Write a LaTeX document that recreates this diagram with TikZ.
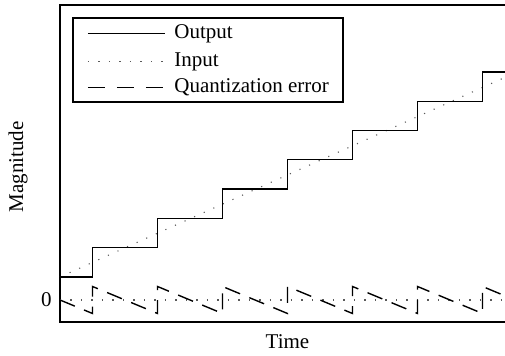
\documentclass[tikz,border=0pt]{standalone}
\usepackage{fontspec}
\setmainfont{Liberation Serif}
\begin{document}
\begin{tikzpicture}[x=0.5pt,y=-0.5pt,
  lbl/.style={font=\fontsize{10.5}{12}\selectfont, inner sep=0pt},
  axisline/.style={line width=1pt},
  outline/.style={line width=0.65pt},
  inline/.style={line width=0.55pt, dash pattern=on 0.55pt off 4.7pt, gray!70!black},
  errline/.style={line width=0.7pt, dash pattern=on 8pt off 5pt},
  legbox/.style={draw, line width=0.85pt, fill=white}]
\useasboundingbox (0,0) rectangle (505,356);
\clip (0,0) rectangle (505,356);
% frame
\draw[axisline] (60,5) rectangle (540,322);
% zero reference (dotted)
\draw[inline] (60,300) -- (505,300);
% input ramp (dotted)
\draw[inline] (60,277) -- (505,77.4);
% output staircase
\draw[outline] (60,277) -- (92.5,277) -- (92.5,247.7) -- (157.5,247.7) -- (157.5,218.4)
  -- (222.5,218.4) -- (222.5,189.1) -- (287.5,189.1) -- (287.5,159.8) -- (352.5,159.8)
  -- (352.5,130.5) -- (417.5,130.5) -- (417.5,101.2) -- (482.5,101.2) -- (482.5,71.9) -- (505,71.9);
% quantization error sawtooth
\draw[errline] (60,300) -- (92.5,313.5) -- (92.5,286.5) -- (157.5,313.5) -- (157.5,286.5)
  -- (222.5,313.5) -- (222.5,286.5) -- (287.5,313.5) -- (287.5,286.5) -- (352.5,313.5)
  -- (352.5,286.5) -- (417.5,313.5) -- (417.5,286.5) -- (482.5,313.5) -- (482.5,286.5) -- (505,295.85);
% legend
\draw[legbox] (73.3,18.3) rectangle (342.7,101.7);
\coordinate (l1a) at (88,33.3); \coordinate (l1b) at (165,33.3);
\coordinate (l2a) at (88,61.5); \coordinate (l2b) at (165,61.5);
\coordinate (l3a) at (88,87.5); \coordinate (l3b) at (165,87.5);
\draw[outline] (l1a) -- (l1b);
\draw[inline] (l2a) -- (l2b);
\draw[errline, dash pattern=on 8.5pt off 6pt] (l3a) -- (l3b);
\node[lbl, anchor=west] (tout) at (174,33.3) {Output};
\node[lbl, anchor=west] (tin) at (174,61.5) {Input};
\node[lbl, anchor=west] (terr) at (174,87.5) {Quantization error};
% axis labels
\node[lbl] (zero) at (46.5,300) {0};
\node[lbl, rotate=90] (ylab) at (18,167) {Magnitude};
\node[lbl] (xlab) at (287.5,341.5) {Time};
\end{tikzpicture}
\end{document}
